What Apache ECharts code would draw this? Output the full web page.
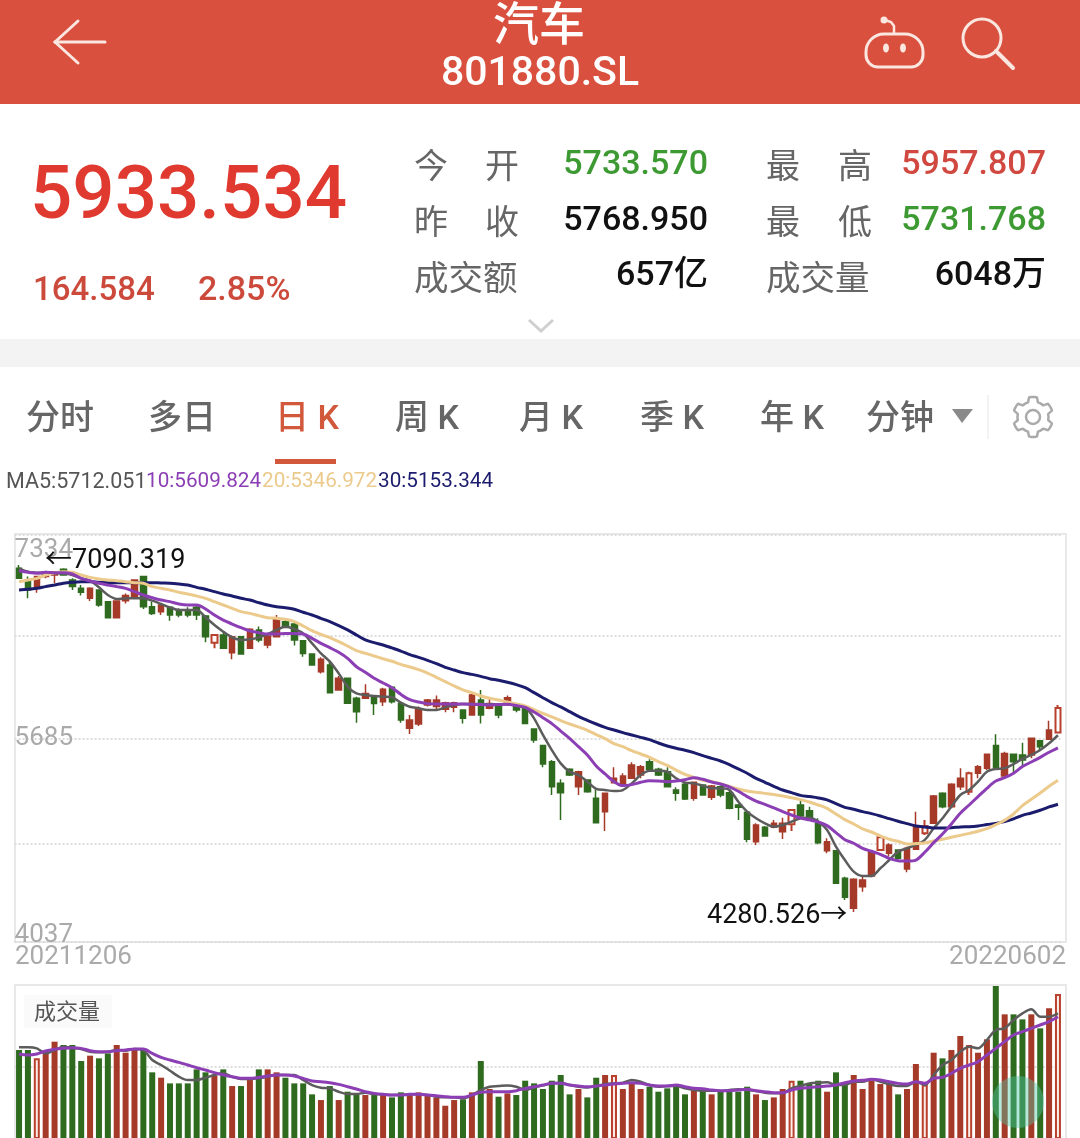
<!DOCTYPE html>
<html>
<head>
<meta charset="utf-8">
<title>汽车 801880.SL</title>
<style>
html, body { margin: 0; padding: 0; background: #fff; }
#main { width: 1080px; height: 1138px; }
</style>
<script src="https://cdn.jsdelivr.net/npm/echarts@6/dist/echarts.min.js"></script>
</head>
<body>
<div id="main"></div>
<script>
// daily values
var priceOpen = [
  7064,6970,6902,6997,7010,7056,6970,6902,6821,6889,
  6794,6664,6802,6834,6997,6753,6713,6748,6726,6726,
  6748,6678,6462,6524,6381,6510,6416,6565,6443,6510,
  6632,6613,6478,6370,6227,6281,6079,6173,6011,6011,
  6024,5984,6100,5970,5768,5803,5957,5944,5922,5938,
  5916,5876,5997,5930,5957,5965,5943,5938,5763,5628,
  5498,5322,5436,5295,5349,5201,5093,5328,5314,5363,
  5390,5498,5436,5417,5268,5314,5201,5309,5209,5295,
  5247,5147,5088,4850,4966,4966,4931,4990,5147,5101,
  4998,4777,4777,4553,4310,4485,4572,4782,4755,4782,
  4629,4788,4917,4998,5241,5133,5295,5255,5403,5444,
  5628,5382,5557,5552,5552,5668,5679,5733.57
];
var priceClose = [
  6983,6889,6997,7037,7037,7010,6916,6870,6902,6767,
  6664,6799,6843,6970,6753,6699,6767,6686,6686,6686,
  6686,6510,6524,6416,6510,6370,6570,6484,6516,6659,
  6591,6484,6375,6281,6327,6057,6173,5971,5903,6051,
  5970,6084,5984,5835,5835,5922,5997,5997,5976,5976,
  5849,6038,5876,5970,5876,6016,5916,5808,5673,5479,
  5295,5247,5390,5417,5255,5004,5241,5363,5382,5471,
  5457,5436,5390,5295,5241,5196,5331,5228,5301,5228,
  5120,5128,4869,4985,4896,4998,4998,5106,5058,5047,
  4842,4850,4512,4399,4545,4539,4769,4885,4823,4715,
  4796,4971,4977,5220,5133,5314,5363,5403,5457,5557,
  5444,5565,5498,5511,5687,5619,5754,5933.534
];
var priceHigh = [
  7090.319,6997,6997,7045,7037,7064,6983,6929,6910,6894,
  6794,6799,6861,6975,6997,6794,6775,6753,6740,6748,
  6759,6686,6524,6551,6519,6516,6578,6592,6524,6686,
  6645,6624,6484,6370,6343,6321,6192,6173,6024,6124,
  6024,6097,6100,5970,5876,5944,6006,6033,5984,5984,
  5922,6057,6079,6011,5957,6033,5949,5938,5763,5628,
  5511,5355,5444,5425,5355,5268,5247,5452,5403,5493,
  5471,5517,5449,5452,5290,5336,5331,5314,5309,5304,
  5268,5155,5088,4998,4977,5026,5044,5115,5179,5133,
  5039,4877,4777,4566,4553,4566,4777,4890,4836,4788,
  4809,5093,5026,5228,5250,5322,5444,5417,5471,5565,
  5719,5579,5560,5652,5692,5673,5830,5957.807
];
var priceLow = [
  6983,6821,6867,6983,6943,7010,6889,6843,6799,6753,
  6664,6664,6780,6821,6735,6686,6686,6640,6667,6667,
  6645,6465,6416,6416,6327,6370,6416,6465,6416,6505,
  6578,6438,6348,6281,6213,6057,6079,5971,5814,6011,
  5876,5949,5970,5814,5722,5787,5944,5922,5898,5898,
  5808,5876,5808,5922,5849,5949,5898,5808,5652,5452,
  5228,5025,5382,5228,5247,5004,4936,5322,5309,5358,
  5363,5431,5382,5295,5182,5187,5182,5228,5188,5209,
  5112,5026,4845,4823,4890,4958,4872,4936,5039,5026,
  4828,4756,4512,4377,4280.526,4445,4561,4782,4729,4688,
  4602,4782,4904,4993,5120,5120,5268,5228,5363,5430,
  5430,5371,5412,5457,5525,5592,5679,5731.768
];
var ma5 = [
  7064,7037,7029,7024,7024,7024,7010,6983,6964,6910,
  6848,6816,6821,6821,6821,6802,6775,6748,6726,6726,
  6726,6667,6605,6551,6505,6484,6489,6505,6532,6565,
  6591,6573,6537,6456,6375,6308,6213,6106,6051,6038,
  6030,6024,6019,5976,5943,5930,5916,5916,5938,5957,
  5965,5965,5965,5962,5962,5965,5957,5938,5849,5714,
  5592,5484,5417,5390,5336,5277,5268,5260,5268,5322,
  5390,5425,5425,5417,5363,5328,5322,5304,5282,5282,
  5268,5174,5093,5039,4998,4971,4985,5012,5039,5044,
  5012,4945,4810,4701,4607,4572,4572,4634,4701,4769,
  4796,4823,4864,4958,5039,5134,5228,5268,5336,5417,
  5439,5444,5479,5520,5552,5592,5647,5712.051
];
var ma10 = [
  7045,7032,7024,7032,7029,7029,7018,6983,6961,6943,
  6929,6916,6902,6875,6848,6826,6807,6794,6775,6767,
  6767,6735,6686,6645,6613,6583,6556,6543,6532,6532,
  6537,6537,6532,6497,6456,6421,6384,6335,6267,6222,
  6173,6135,6097,6043,6000,5981,5968,5965,5965,5965,
  5965,5962,5960,5957,5960,5962,5952,5938,5900,5854,
  5806,5746,5687,5619,5552,5463,5398,5336,5304,5312,
  5331,5344,5341,5336,5341,5352,5368,5355,5333,5317,
  5293,5258,5215,5179,5152,5123,5093,5066,5042,5026,
  5009,4980,4923,4866,4837,4796,4772,4747,4715,4696,
  4693,4701,4764,4842,4912,4993,5080,5147,5215,5282,
  5341,5368,5404,5458,5495,5533,5574,5609.824
];
var ma20 = [
  6956,6970,6983,7010,7029,7037,7032,7010,6991,6978,
  6970,6964,6956,6948,6943,6916,6902,6889,6870,6856,
  6840,6821,6794,6767,6740,6713,6699,6681,6664,6659,
  6651,6632,6597,6559,6529,6502,6470,6435,6397,6376,
  6354,6332,6311,6286,6265,6243,6216,6181,6146,6111,
  6079,6057,6030,6011,5997,5981,5965,5949,5919,5889,
  5860,5830,5803,5779,5752,5717,5684,5644,5619,5587,
  5560,5533,5498,5468,5430,5395,5371,5347,5336,5320,
  5298,5277,5260,5250,5241,5231,5220,5206,5190,5171,
  5147,5120,5074,5028,4993,4953,4928,4896,4869,4853,
  4831,4834,4839,4855,4869,4885,4901,4917,4934,4955,
  4988,5023,5074,5142,5193,5244,5298,5346.972
];
var ma30 = [
  6889,6894,6902,6916,6929,6943,6951,6956,6956,6951,
  6948,6948,6948,6948,6948,6948,6945,6943,6937,6929,
  6910,6894,6875,6856,6840,6821,6807,6786,6767,6753,
  6745,6732,6708,6686,6659,6632,6600,6565,6524,6484,
  6462,6443,6419,6394,6365,6343,6319,6292,6262,6240,
  6219,6205,6189,6170,6157,6141,6122,6097,6057,6016,
  5976,5941,5903,5865,5833,5803,5776,5754,5733,5714,
  5695,5676,5649,5625,5606,5590,5571,5547,5525,5503,
  5474,5439,5404,5363,5331,5298,5268,5247,5225,5215,
  5204,5188,5158,5128,5112,5093,5077,5058,5036,5015,
  4996,4977,4969,4961,4961,4963,4969,4971,4977,4988,
  4998,5012,5034,5063,5082,5104,5131,5153.344
];
var volume = [
  4539,4539,4315,4494,4764,4674,4674,4243,4387,4315,
  4449,4674,4467,4584,4584,3938,3794,3641,3641,3641,
  4018,3938,3848,4018,3569,3569,3731,4018,4018,3938,
  3794,3641,3641,3345,3192,3569,3192,3417,3354,3327,
  3327,3354,3264,3399,3327,3399,3327,3264,3039,3192,
  3210,3399,4243,3489,3282,3372,3327,3713,3641,3489,
  3713,3866,3345,3489,3264,3794,3866,3866,3489,3641,
  3489,3551,3417,3507,3551,3345,3444,3507,3345,3417,
  3417,3417,3551,3345,3192,3264,3489,3713,3713,3623,
  3713,3417,3938,3641,3866,3489,3713,3623,3641,3345,
  3489,4162,3614,4467,4315,4539,4916,4674,4467,4827,
  6263,5500,5500,5365,5500,5123,5662,6048
];
var volMa5 = [
  4611,4611,4584,4449,4539,4629,4602,4566,4494,4476,
  4494,4539,4521,4566,4539,4270,4135,3982,3821,3731,
  3731,3794,3866,3911,3821,3758,3758,3776,3821,3866,
  3866,3866,3731,3596,3525,3507,3417,3354,3354,3390,
  3354,3345,3327,3327,3345,3345,3327,3282,3264,3264,
  3237,3327,3462,3551,3569,3587,3551,3462,3533,3587,
  3641,3659,3596,3551,3533,3569,3623,3641,3659,3731,
  3686,3596,3551,3569,3569,3507,3462,3444,3444,3435,
  3462,3480,3462,3435,3390,3372,3372,3507,3569,3641,
  3659,3668,3596,3596,3686,3686,3749,3686,3623,3569,
  3569,3686,3596,3866,4135,4270,4494,4629,4584,4809,
  5078,5123,5347,5527,5635,5437,5437,5527
];
var volMa10 = [
  4431,4404,4431,4512,4557,4584,4602,4584,4521,4494,
  4494,4521,4539,4566,4566,4449,4342,4270,4207,4135,
  4063,4000,3929,3866,3821,3776,3776,3803,3839,3866,
  3866,3839,3776,3704,3686,3659,3614,3551,3489,3417,
  3372,3345,3327,3327,3345,3345,3327,3309,3282,3264,
  3264,3327,3399,3417,3417,3417,3444,3507,3551,3596,
  3641,3641,3596,3569,3551,3569,3596,3623,3641,3659,
  3641,3596,3569,3569,3596,3551,3507,3498,3462,3444,
  3444,3462,3480,3444,3417,3390,3390,3462,3507,3533,
  3551,3569,3596,3659,3704,3722,3749,3731,3686,3641,
  3623,3686,3641,3776,3803,3911,4045,4135,4225,4404,
  4584,4764,4943,5033,5123,5213,5303,5437
];
var dateLabels = ['20211206', '20220602'];
var priceTicks = [4037, 4835, 5685, 6515, 7334];
var priceTickLabels = [4037, 5685, 7334];
var hollowCandles = [22, 87, 97, 102, 107, 117];
var hollowVolumes = [2, 67, 87, 102, 107, 117];
var tabs = [['分时', 26], ['多日', 148], ['周 K', 395], ['月 K', 519], ['季 K', 640], ['年 K', 760], ['分钟', 866]];

var RED = '#a63a28', GREEN = '#2f6b1f';
var C_MA5 = '#5c5c5c', C_MA10 = '#8c3fb4', C_MA20 = '#ecca8c', C_MA30 = '#1c1c6e';
var FONT = 'Roboto, "Noto Sans CJK SC", sans-serif';

var days = priceOpen.map(function (v, i) { return i; });

var candles = priceOpen.map(function (o, i) {
    var item = { value: [o, priceClose[i], priceLow[i], priceHigh[i]] };
    if (hollowCandles.indexOf(i) >= 0) item.itemStyle = { color: '#fff', borderColor: '#b8402c', borderWidth: 2 };
    return item;
});

var volumeBars = volume.map(function (v, i) {
    var up = priceClose[i] > priceOpen[i];
    var s = { color: up ? RED : GREEN };
    if (hollowVolumes.indexOf(i) >= 0) s = { color: '#fbeee9', borderColor: '#b8402c', borderWidth: 2 };
    return { value: v, itemStyle: s };
});

// y is the visual centre of the text
function txt(text, x, y, size, fill, opt) {
    opt = opt || {};
    return {
        type: 'text', z: 10, silent: true,
        style: {
            x: x, y: y + size * 0.1, text: text, fill: fill,
            font: (opt.weight || 'normal') + ' ' + size + 'px ' + FONT,
            textAlign: opt.align || 'left', textVerticalAlign: 'middle'
        }
    };
}
function line(x1, y1, x2, y2, color, w) {
    return { type: 'line', z: 10, silent: true, shape: { x1: x1, y1: y1, x2: x2, y2: y2 }, style: { stroke: color, lineWidth: w, lineCap: 'round' } };
}
function rect(x, y, w, h, fill, stroke) {
    return { type: 'rect', z: 0, silent: true, shape: { x: x, y: y, width: w, height: h }, style: { fill: fill, stroke: stroke || null, lineWidth: stroke ? 2 : 0 } };
}

// 设置图标
var gearPts = [];
for (var g = 0; g < 48; g++) {
    var on = Math.floor(g / 4) % 2 === 0;
    var ang = (g - 1.5) / 48 * Math.PI * 2 - Math.PI / 2;
    gearPts.push([1033 + (on ? 20 : 15.5) * Math.cos(ang), 417 + (on ? 20 : 15.5) * Math.sin(ang)]);
}

var ICON = '#fbe6e0';
var graphics = [
    rect(0, 0, 1080, 104, '#d9503f'),
    rect(0, 339, 1080, 28, '#f3f3f3'),
    // 标题栏
    txt('汽车', 539, 24, 46, '#fff', { align: 'center', weight: 500 }),
    txt('801880.SL', 540, 71, 41, '#fff', { align: 'center', weight: 500 }),
    line(55, 42, 105, 42, ICON, 3),
    line(55, 42, 78, 21, ICON, 3),
    line(55, 42, 78, 63, ICON, 3),
    { type: 'rect', z: 10, silent: true, shape: { x: 866, y: 34, width: 57, height: 33, r: [18, 18, 12, 12] }, style: { fill: null, stroke: ICON, lineWidth: 3 } },
    { type: 'polyline', z: 10, silent: true, shape: { points: [[894, 33], [894, 26], [891, 22], [885, 20]] }, style: { fill: null, stroke: ICON, lineWidth: 2.5 } },
    { type: 'circle', z: 10, silent: true, shape: { cx: 884, cy: 20, r: 3.5 }, style: { fill: ICON } },
    { type: 'ellipse', z: 10, silent: true, shape: { cx: 886, cy: 48, rx: 3, ry: 4.5 }, style: { fill: ICON } },
    { type: 'ellipse', z: 10, silent: true, shape: { cx: 903, cy: 48, rx: 3, ry: 4.5 }, style: { fill: ICON } },
    { type: 'circle', z: 10, silent: true, shape: { cx: 982, cy: 38, r: 19 }, style: { fill: null, stroke: ICON, lineWidth: 3 } },
    line(996, 51, 1013, 68, ICON, 4),
    // 报价
    txt('5933.534', 30, 192, 74.5, '#e0392f', { weight: 500 }),
    txt('164.584', 33, 288, 33, '#cc4a3c', { weight: 500 }),
    txt('2.85%', 198, 288, 34, '#cc4a3c', { weight: 500 }),
    txt('今', 414, 166, 34, '#666'), txt('开', 485, 166, 34, '#666'),
    txt('昨', 414, 222, 34, '#666'), txt('收', 485, 222, 34, '#666'),
    txt('成交额', 414, 278, 34.5, '#666'),
    txt('最', 766, 166, 34, '#666'), txt('高', 838, 166, 34, '#666'),
    txt('最', 766, 222, 34, '#666'), txt('低', 838, 222, 34, '#666'),
    txt('成交量', 766, 278, 34.5, '#666'),
    txt('5733.570', 708, 162, 34, '#3d9a33', { align: 'right', weight: 500 }),
    txt('5768.950', 708, 218, 34, '#111', { align: 'right', weight: 500 }),
    txt('657亿', 708, 273, 34, '#111', { align: 'right', weight: 500 }),
    txt('5957.807', 1046, 162, 34, '#d0483f', { align: 'right', weight: 500 }),
    txt('5731.768', 1046, 218, 34, '#3d9a33', { align: 'right', weight: 500 }),
    txt('6048万', 1046, 273, 34, '#111', { align: 'right', weight: 500 }),
    { type: 'polyline', z: 10, silent: true, shape: { points: [[529, 320], [541, 331], [553, 320]] }, style: { fill: null, stroke: '#cfcfcf', lineWidth: 3 } },
    // 周期切换
    txt('日 K', 275, 417, 34, '#d2583c', { weight: 500 }),
    rect(275, 459, 61, 5, '#d2583c'),
    { type: 'polygon', z: 10, silent: true, shape: { points: [[952, 409], [973, 409], [962, 423]] }, style: { fill: '#8a8a8a' } },
    rect(987, 395, 2, 44, '#f3f3f3'),
    { type: 'polygon', z: 10, silent: true, shape: { points: gearPts, smooth: 0.15 }, style: { fill: null, stroke: '#aaa', lineWidth: 2.5 } },
    { type: 'circle', z: 10, silent: true, shape: { cx: 1033, cy: 417, r: 7 }, style: { fill: null, stroke: '#aaa', lineWidth: 2.5 } },
    // MA 图例
    txt('MA5:5712.051', 6, 480, 21.5, '#555'),
    txt('10:5609.824', 146, 480, 20.7, C_MA10),
    txt('20:5346.972', 262, 480, 20.7, C_MA20),
    txt('30:5153.344', 378, 480, 20.7, C_MA30),
    // 面板
    rect(15, 534, 1051, 408, '#fff', '#e8e8e8'),
    rect(15, 985, 1051, 160, '#fff', '#e8e8e8'),
    txt('←7090.319', 45, 559, 27, '#111'),
    txt('4280.526→', 707, 914, 27, '#111'),
    txt(dateLabels[0], 15, 955, 26, '#aaa'),
    txt(dateLabels[1], 1066, 955, 26, '#aaa', { align: 'right' }),
    { type: 'rect', z: 3, silent: true, shape: { x: 24, y: 995, width: 88, height: 33 }, style: { fill: '#fafafa' } },
    txt('成交量', 67, 1011, 22, '#555', { align: 'center' }),
    { type: 'circle', z: 20, silent: true, shape: { cx: 1018, cy: 1102, r: 26 }, style: { fill: 'rgba(80,200,165,0.42)' } }
];
tabs.forEach(function (t) { graphics.push(txt(t[0], t[1], 417, 34, '#666', { weight: 500 })); });

function maLine(name, data, color, width, xi, yi, z) {
    return {
        name: name, type: 'line', data: data, xAxisIndex: xi, yAxisIndex: yi, z: z,
        showSymbol: false, smooth: 0.3, silent: true,
        lineStyle: { color: color, width: width }
    };
}

var chart = echarts.init(document.getElementById('main'), null, { width: 1080, height: 1138 });
chart.setOption({
    animation: false,
    backgroundColor: '#fff',
    graphic: graphics,
    grid: [
        { left: 14.6, width: 1047.8, top: 535, height: 407 },
        { left: 14.6, width: 1047.8, top: 985, height: 153 }
    ],
    xAxis: [
        { type: 'category', gridIndex: 0, data: days, axisLine: { show: false }, axisTick: { show: false }, axisLabel: { show: false } },
        { type: 'category', gridIndex: 1, data: days, axisLine: { show: false }, axisTick: { show: false }, axisLabel: { show: false } }
    ],
    yAxis: [{
        type: 'value', gridIndex: 0, min: 4037, max: 7334,
        axisLine: { show: false }, axisTick: { show: false, customValues: priceTicks },
        splitLine: { show: true, lineStyle: { color: '#dcdcdc', type: 'dotted', width: 2 } },
        axisLabel: {
            inside: true, margin: 0, customValues: priceTicks,
            color: '#aaa', fontSize: 26, fontFamily: FONT, padding: [2, 0, -6, 0],
            verticalAlignMinLabel: 'bottom', verticalAlignMaxLabel: 'top',
            formatter: function (v) { return priceTickLabels.indexOf(v) >= 0 ? String(v) : ''; }
        }
    }, {
        type: 'value', gridIndex: 1, min: 2170, max: 6290,
        axisLine: { show: false }, axisTick: { show: false, customValues: [4082] },
        splitLine: { show: true, lineStyle: { color: '#dcdcdc', type: 'dotted', width: 2 } },
        axisLabel: { show: false, customValues: [4082] }
    }],
    series: [
        {
            name: '日K', type: 'candlestick', data: candles, barWidth: 6, z: 2, silent: true,
            itemStyle: { color: RED, color0: GREEN, borderColor: RED, borderColor0: GREEN, borderWidth: 1.5 }
        },
        maLine('MA5', ma5, C_MA5, 2.5, 0, 0, 3),
        maLine('MA30', ma30, C_MA30, 3, 0, 0, 4),
        maLine('MA20', ma20, C_MA20, 3, 0, 0, 4),
        maLine('MA10', ma10, C_MA10, 3, 0, 0, 5),
        { name: '成交量', type: 'bar', data: volumeBars, xAxisIndex: 1, yAxisIndex: 1, barWidth: 6, z: 2, silent: true },
        maLine('VOL5', volMa5, C_MA5, 2.5, 1, 1, 3),
        maLine('VOL10', volMa10, C_MA10, 3, 1, 1, 4)
    ]
});
</script>
</body>
</html>
